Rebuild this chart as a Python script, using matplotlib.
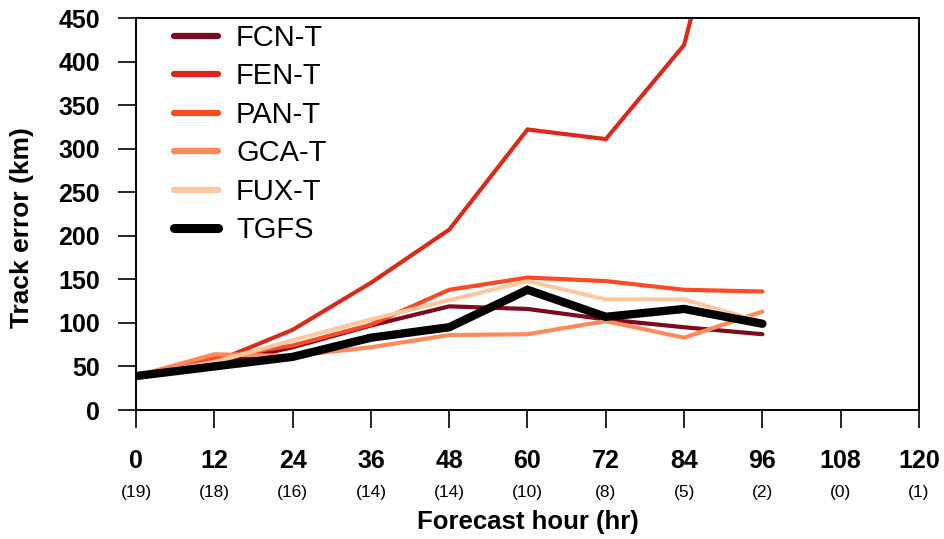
import matplotlib
matplotlib.use("Agg")
import matplotlib.pyplot as plt
import matplotlib.transforms as mtransforms

hours = [0, 12, 24, 36, 48, 60, 72, 84, 96]
xticks = [0, 12, 24, 36, 48, 60, 72, 84, 96, 108, 120]
counts = ["(19)", "(18)", "(16)", "(14)", "(14)", "(10)", "(8)", "(5)", "(2)", "(0)", "(1)"]

fcn_t = [39, 52, 72, 97, 119, 116, 104, 95, 87]
fen_t = [39, 55, 92, 146, 207, 322, 311, 419, 770]
pan_t = [39, 60, 74, 98, 138, 152, 148, 138, 136]
gca_t = [39, 64, 62, 72, 86, 87, 102, 83, 113]
fux_t = [39, 55, 80, 104, 126, 148, 127, 127, 101]
tgfs = [39, 50, 61, 83, 95, 138, 107, 116, 99]

series = [
    ("FCN-T", fcn_t, "#7d0a20", 3.0),
    ("FEN-T", fen_t, "#d92b1a", 3.0),
    ("PAN-T", pan_t, "#fc4a22", 3.0),
    ("GCA-T", gca_t, "#fc8a5a", 3.0),
    ("FUX-T", fux_t, "#fdc8a0", 3.0),
    ("TGFS", tgfs, "#000000", 6.0),
]

plt.rcParams['font.family'] = ['Liberation Sans', 'DejaVu Sans']

fig = plt.figure(figsize=(9.45, 5.39), dpi=100)
ax = fig.add_axes([136/945, 1-410/539, (919-136)/945, (410-18)/539])

handles = []
for name, vals, col, lw in series:
    h, = ax.plot(hours, vals, color=col, lw=lw, label=name, solid_capstyle='round',
                 solid_joinstyle='miter')
    handles.append(h)

ax.set_xlim(0, 120)
ax.set_ylim(0, 450)
ax.set_xticks(xticks)
ax.set_xticklabels([str(t) for t in xticks], fontsize=18, fontweight='bold')
ax.set_yticks(range(0, 451, 50))
ax.set_yticklabels([str(v) for v in range(0, 451, 50)], fontsize=18, fontweight='bold')
ax.tick_params(axis='x', direction='out', length=13, width=1.2, pad=15)
ax.tick_params(axis='y', direction='out', length=13, width=1.2, pad=13)
for s in ax.spines.values():
    s.set_linewidth(1.4)

trans = mtransforms.blended_transform_factory(ax.transData, fig.transFigure)
for t, c in zip(xticks, counts):
    ax.text(t, 1-493/539, c, transform=trans, ha='center', va='center', fontsize=12.5,
            clip_on=False)

fig.text(0.5 * (136+919)/945, 1-522/539, "Forecast hour (hr)", ha='center', va='center',
         fontsize=18.5, fontweight='bold')
fig.text(22/945, 1-228/539, "Track error (km)", ha='center', va='center', rotation=90,
         fontsize=19, fontweight='bold')

leg = ax.legend(handles=handles, loc='upper left', bbox_to_anchor=(0.034, 1.015),
                frameon=False, fontsize=21, handlelength=1.5, handletextpad=0.62,
                labelspacing=0.36, borderaxespad=0.0)
for lh, (_, _, _, lw) in zip(leg.get_lines(), series):
    lh.set_linewidth(4.5 if lw < 5 else 6.5)

fig.savefig("out.png", dpi=100)
